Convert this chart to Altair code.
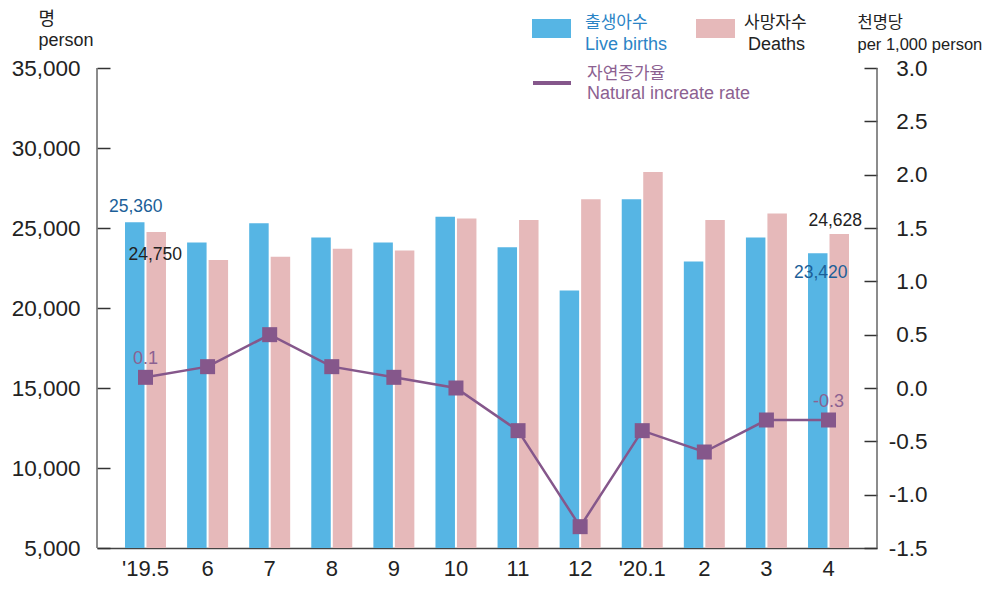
import altair as alt
import pandas as pd

# ---- data ----
months = ["'19.5", "6", "7", "8", "9", "10", "11", "12", "'20.1", "2", "3", "4"]
births = [25360, 24100, 25300, 24400, 24100, 25700, 23800, 21100, 26800, 22900, 24400, 23420]
deaths = [24750, 23000, 23200, 23700, 23600, 25600, 25500, 26800, 28500, 25500, 25900, 24628]
rate = [0.1, 0.2, 0.5, 0.2, 0.1, 0.0, -0.4, -1.3, -0.4, -0.6, -0.3, -0.3]
series_keys = ["births", "deaths"]
left_ticks = [5000, 10000, 15000, 20000, 25000, 30000, 35000]
right_ticks = [-1.5, -1.0, -0.5, 0.0, 0.5, 1.0, 1.5, 2.0, 2.5, 3.0]

bars_df = pd.DataFrame({
    "month": months * 2,
    "series": ["births"] * len(months) + ["deaths"] * len(months),
    "value": births + deaths,
})
rate_df = pd.DataFrame({"month": months, "rate": rate})
one = pd.DataFrame({"k": [0]})

BLUE = "#56B5E4"
PINK = "#E6B9BA"
PURPLE = "#85578B"
PURPLE_TXT = "#8C6191"
BLUE_TXT = "#1C5F98"
LEG_BLUE = "#2B84C6"
INK = "#222222"
FONT = "Liberation Sans"
KFONT = "Liberation Sans, Noto Sans CJK KR"
KR = "Noto Sans CJK KR"

W, H = 780, 480

x_enc = alt.X(
    "month:N", sort=months,
    scale=alt.Scale(paddingInner=0.34, paddingOuter=0.451),
    axis=alt.Axis(title=None, ticks=False, domain=True, domainColor="#444",
                  domainWidth=1.5, labelFont=FONT, labelFontSize=22,
                  labelColor=INK, labelPadding=10, labelAngle=0, grid=False),
)
xoff_enc = alt.XOffset("series:N", sort=series_keys,
                       scale=alt.Scale(paddingInner=0.093, paddingOuter=0))

y_left = alt.Y(
    "value:Q",
    scale=alt.Scale(domain=[5000, 35000], zero=False, nice=False),
    axis=alt.Axis(
        orient="left", values=left_ticks,
        labelExpr="format(datum.value, ',')",
        offset=-13, tickSize=13,
        tickColor="#333", tickWidth=1.5, domain=False, grid=False,
        labelFont=FONT, labelFontSize=22.5, labelColor=INK, labelPadding=17,
        title=["명", "person"], titleAngle=0, titleAlign="left",
        titleBaseline="top", titleX=-72, titleY=-58, titleFont=KFONT,
        titleFontSize=18, titleFontWeight="normal", titleLineHeight=21,
        titleColor=INK,
    ),
)

y_right = alt.Y(
    "rate:Q",
    scale=alt.Scale(domain=[-1.5, 3.0], zero=False, nice=False),
    axis=alt.Axis(
        orient="right", values=right_ticks,
        labelExpr="replace(format(datum.value, '.1f'), '\u2212', '-')",
        offset=-13, tickSize=13, tickColor="#333", tickWidth=1.5,
        domain=False, grid=False, labelFont=FONT, labelFontSize=22.5,
        labelColor=INK, labelPadding=50, labelAlign="right",
        title=["천명당", "per 1,000 person"], titleAngle=0, titleAlign="left",
        titleBaseline="top", titleX=-7, titleY=-54, titleFont=KFONT,
        titleFontSize=16.5, titleFontWeight="normal", titleLineHeight=22,
        titleColor=INK,
    ),
)

bars = alt.Chart(bars_df).mark_bar().encode(
    x=x_enc, xOffset=xoff_enc, y=y_left, y2=alt.datum(5000),
    color=alt.Color("series:N", scale=alt.Scale(domain=series_keys, range=[BLUE, PINK]),
                    legend=None),
)


def bar_label(month, series, color, dx, dy):
    return (
        alt.Chart(bars_df)
        .transform_filter(alt.FieldEqualPredicate(field="month", equal=month))
        .transform_filter(alt.FieldEqualPredicate(field="series", equal=series))
        .mark_text(font=FONT, fontSize=17.5, color=color, dx=dx, dy=dy,
                   baseline="alphabetic", align="center")
        .encode(x=x_enc, xOffset=xoff_enc, y=y_left,
                text=alt.Text("value:Q", format=","))
    )


left_group = alt.layer(
    bars,
    bar_label(months[0], "births", BLUE_TXT, 1, -10),
    bar_label(months[0], "deaths", INK, -1, 28),
    bar_label(months[-1], "deaths", INK, -4, -8),
    bar_label(months[-1], "births", BLUE_TXT, 3, 25),
)

line = alt.Chart(rate_df).mark_line(color=PURPLE, strokeWidth=2.5).encode(x=x_enc, y=y_right)
pts = alt.Chart(rate_df).mark_square(color=PURPLE, size=225, opacity=1).encode(x=x_enc, y=y_right)
rate_lbl = (
    alt.Chart(rate_df)
    .transform_filter(alt.FieldOneOfPredicate(field="month", oneOf=[months[0], months[-1]]))
    .transform_calculate(lbl="replace(format(datum.rate, '.1f'), '\u2212', '-')")
    .mark_text(font=FONT, fontSize=18, color=PURPLE_TXT, dy=-13,
               baseline="alphabetic", align="center")
    .encode(x=x_enc, y=y_right, text="lbl:N")
)
right_group = alt.layer(line, pts, rate_lbl)

# frame lines (left / right axis lines)
frame_l = alt.Chart(one).mark_rule(color="#666", strokeWidth=1.5).encode(
    x=alt.value(0), y=alt.value(0), y2=alt.value(H))
frame_r = alt.Chart(one).mark_rule(color="#666", strokeWidth=1.5).encode(
    x=alt.value(W), y=alt.value(0), y2=alt.value(H))

# legend
leg_blue = alt.Chart(one).mark_rect(color=BLUE).encode(
    x=alt.value(435), x2=alt.value(474), y=alt.value(-49), y2=alt.value(-30))
leg_pink = alt.Chart(one).mark_rect(color=PINK).encode(
    x=alt.value(599), x2=alt.value(638), y=alt.value(-49), y2=alt.value(-30))
leg_line = alt.Chart(one).mark_rule(color=PURPLE, strokeWidth=4).encode(
    x=alt.value(436), x2=alt.value(474), y=alt.value(15))


def leg_text(txt, color, xv, yv, font, size):
    return alt.Chart(one).mark_text(text=txt, color=color, font=font, fontSize=size,
                                    align="left", baseline="alphabetic").encode(
        x=alt.value(xv), y=alt.value(yv))


legend_layers = [
    leg_blue, leg_pink, leg_line,
    leg_text("출생아수", LEG_BLUE, 488, -40, KR, 17),
    leg_text("Live births", LEG_BLUE, 488, -18, FONT, 18),
    leg_text("사망자수", INK, 647, -40, KR, 17),
    leg_text("Deaths", INK, 651, -18, FONT, 18),
    leg_text("자연증가율", PURPLE_TXT, 490, 11, KR, 17),
    leg_text("Natural increate rate", PURPLE_TXT, 490, 31, FONT, 18),
]

chart = (
    alt.layer(left_group, right_group, frame_l, frame_r, *legend_layers)
    .resolve_scale(y="independent")
    .properties(
        width=W, height=H,
        autosize=alt.AutoSizeParams(type="none"),
        padding={"left": 89, "top": 60, "right": 105, "bottom": 33},
        background="white",
    )
    .configure_view(stroke=None)
)

chart.save("out.html", embed_options={"renderer": "svg", "actions": False})
